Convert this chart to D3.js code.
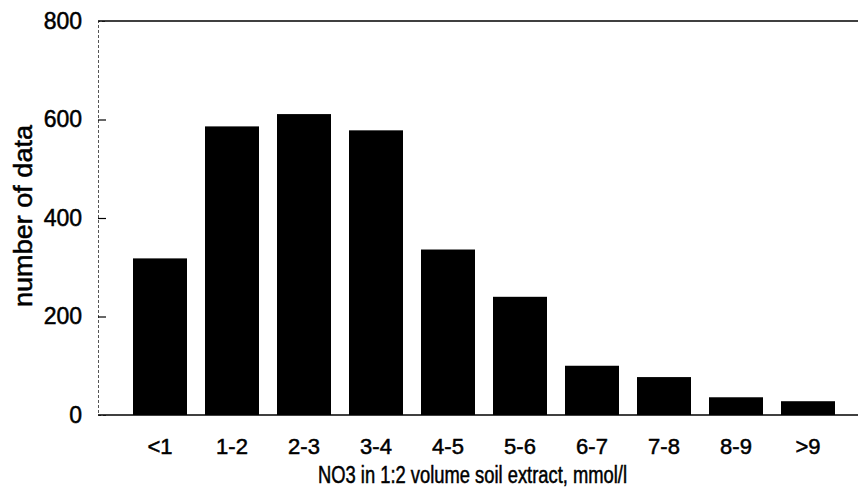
<!DOCTYPE html>
<html>
<head>
<meta charset="utf-8">
<script src="https://cdn.jsdelivr.net/npm/d3@7"></script>
<style>
  body { margin: 0; background: #fff; }
  text { font-family: "Liberation Sans", Arial, sans-serif; fill: #000; stroke: #000; stroke-width: 0.5px; }
</style>
</head>
<body>
<svg id="chart"></svg>
<script>
const categories = ['<1', '1-2', '2-3', '3-4', '4-5', '5-6', '6-7', '7-8', '8-9', '>9'];
const counts = [318, 586, 611, 578, 336, 240, 100, 77, 36, 28];
const yTicks = [0, 200, 400, 600, 800];

const width = 858;
const height = 488;
const plotLeft = 98, plotRight = 858, plotTop = 21, plotBottom = 415;

const svg = d3.select('#chart')
    .attr('width', width)
    .attr('height', height);

// Create x scale
const xScale = d3.scaleBand()
    .domain(categories)
    .range([124, 844])
    .paddingInner(0.25)
    .paddingOuter(0.125);

// Create y scale
const yScale = d3.scaleLinear()
    .domain([0, 800])
    .range([plotBottom, plotTop]);

// Draw bars
svg.selectAll('rect.bar')
    .data(counts)
    .enter()
    .append('rect')
    .attr('class', 'bar')
    .attr('x', (d, i) => xScale(categories[i]))
    .attr('y', d => yScale(d))
    .attr('width', xScale.bandwidth())
    .attr('height', d => yScale(0) - yScale(d))
    .style('fill', '#000');

// Draw y axis (ticks inward)
const yAxis = svg.append('g')
    .attr('transform', `translate(${plotLeft}, 0)`)
    .call(d3.axisLeft(yScale).tickValues(yTicks).tickSize(-8).tickPadding(16));
yAxis.select('.domain')
    .attr('stroke', '#555')
    .attr('stroke-dasharray', '3,2');
yAxis.selectAll('.tick line').attr('stroke', '#000').attr('stroke-width', 1.2);
yAxis.selectAll('.tick text')
    .attr('font-size', '23px')
    .attr('font-family', '"Liberation Sans", Arial, sans-serif');
yAxis.selectAll('.tick').filter(d => d === 0 || d === 800).select('line').remove();

// Top frame line
svg.append('line')
    .attr('x1', plotLeft)
    .attr('x2', plotRight)
    .attr('y1', yScale(800))
    .attr('y2', yScale(800))
    .attr('stroke', '#000')
    .attr('stroke-width', 1.5);

// Baseline
svg.append('line')
    .attr('x1', plotLeft)
    .attr('x2', plotRight)
    .attr('y1', yScale(0))
    .attr('y2', yScale(0))
    .attr('stroke', '#000')
    .attr('stroke-width', 1.5);

// x axis labels
const xAxis = svg.append('g')
    .attr('transform', `translate(0, ${plotBottom})`)
    .call(d3.axisBottom(xScale).tickSize(0).tickPadding(23));
xAxis.select('.domain').remove();
xAxis.selectAll('.tick text')
    .attr('font-size', '22px')
    .attr('font-family', '"Liberation Sans", Arial, sans-serif');

// Axis titles
svg.append('text')
    .attr('x', 318)
    .attr('y', 483)
    .attr('font-size', '23px')
    .attr('textLength', 309)
    .attr('lengthAdjust', 'spacingAndGlyphs')
    .text('NO3 in 1:2 volume soil extract, mmol/l');

svg.append('text')
    .attr('transform', `translate(32, 307) rotate(-90)`)
    .attr('font-size', '25px')
    .attr('textLength', 182)
    .attr('lengthAdjust', 'spacingAndGlyphs')
    .text('number of data');
</script>
</body>
</html>
